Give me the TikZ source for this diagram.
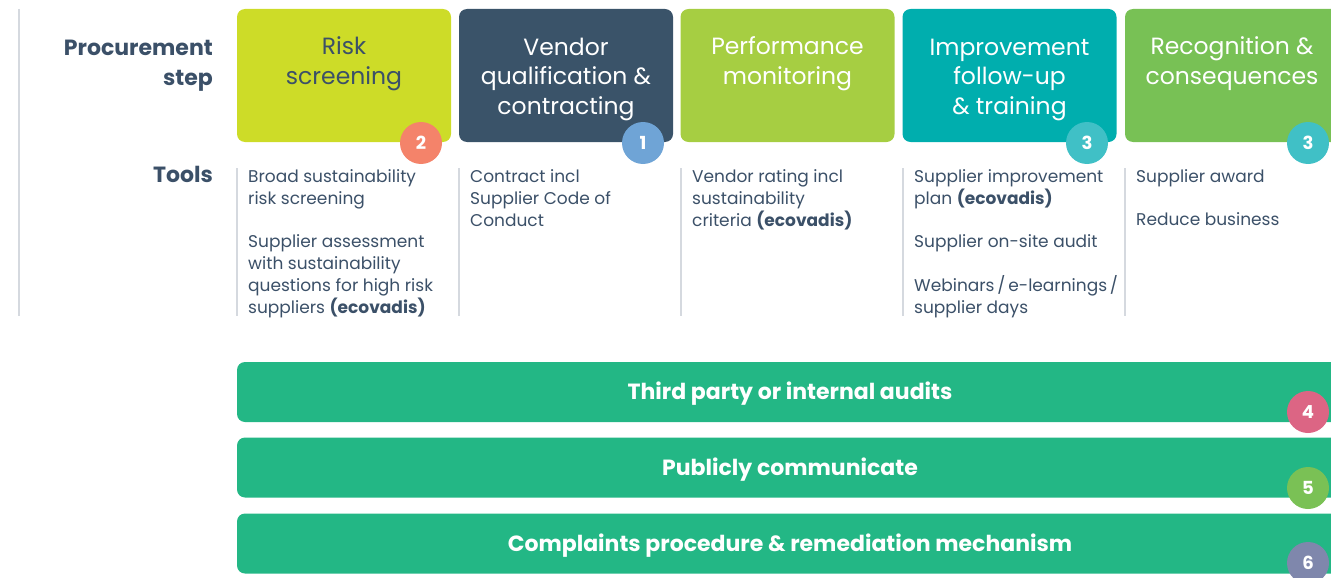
\documentclass[tikz,border=0pt]{standalone}
\usepackage{fontspec}
\setmainfont{Poppins}
\definecolor{ink}{HTML}{3B5068}
\definecolor{cRisk}{HTML}{CDDC28}
\definecolor{cVendor}{HTML}{3A5369}
\definecolor{cPerf}{HTML}{A6CE42}
\definecolor{cImpr}{HTML}{00AEAE}
\definecolor{cRecog}{HTML}{78C155}
\definecolor{cBar}{HTML}{23B785}
\definecolor{bSalmon}{HTML}{F4836A}
\definecolor{bBlue}{HTML}{6FA4D6}
\definecolor{bTeal}{HTML}{40C0C6}
\definecolor{bPink}{HTML}{DC6584}
\definecolor{bGreen}{HTML}{7AC155}
\definecolor{bPurple}{HTML}{7F87AC}
\definecolor{sepgray}{HTML}{D5D9DF}
\tikzset{
  stepbox/.style={rectangle, rounded corners=8pt, minimum width=214pt, minimum height=133pt, inner sep=0pt, draw=none},
  steptext/.style={anchor=base, align=center, inner sep=0pt, font=\fontsize{23.5}{29.5}\selectfont},
  badge/.style={circle, minimum size=42pt, inner sep=0pt, text=white, font=\fontsize{18}{20}\selectfont\bfseries},
  tooltext/.style={anchor=base west, align=left, inner sep=0pt, text=ink, font=\fontsize{17}{22}\selectfont},
  head/.style={anchor=base east, align=right, inner sep=0pt, text=ink, font=\fontsize{22}{30}\selectfont\bfseries},
  bar/.style={rectangle, rounded corners=8pt, minimum width=1106pt, minimum height=60pt, inner sep=0pt, fill=cBar, text=white, text height=15.5pt, text depth=0pt, font=\fontsize{22}{24}\selectfont\bfseries},
  sep/.style={draw=sepgray, line width=1.2pt}
}
\begin{document}
\begin{tikzpicture}[x=1pt, y=-1pt]
\useasboundingbox (0,0) rectangle (1331,578);
\clip (0,0) rectangle (1331,578);
% left rule
\coordinate (L1) at (19,9);
\coordinate (L2) at (19,316);
\draw[sep] (L1) -- (L2);
% headings (base anchor = last line baseline)
\node[head] (hproc) at (213,85) {Procurement\\step};
\node[head] (htools) at (213,182) {Tools};
% step boxes
\node[stepbox, fill=cRisk]   (s1) at (344,75.5) {};
\node[stepbox, fill=cVendor] (s2) at (566,75.5) {};
\node[stepbox, fill=cPerf]   (s3) at (787.5,75.5) {};
\node[stepbox, fill=cImpr]   (s4) at (1009.5,75.5) {};
\node[stepbox, fill=cRecog]  (s5) at (1232,75.5) {};
\node[steptext, text=ink]   (t1) at (344,84.5) {Risk\\screening};
\node[steptext, text=white] (t2) at (566,114) {Vendor\\qualification \&\\contracting};
\node[steptext, text=white] (t3) at (787.5,84.5) {Performance\\monitoring};
\node[steptext, text=white] (t4) at (1009.5,114) {Improvement\\follow-up\\\& training};
\node[steptext, text=white] (t5) at (1232,84.5) {Recognition \&\\consequences};
% badges
\node[badge, fill=bSalmon] (b2) at (421,143) {2};
\node[badge, fill=bBlue]   (b1) at (643,143) {1};
\node[badge, fill=bTeal]   (b3a) at (1087,143) {3};
\node[badge, fill=bTeal]   (b3b) at (1308,143) {3};
% column separators
\foreach \x/\n in {237/a,459/b,681/c,903/d,1125/e}{
  \coordinate (c\n1) at (\x,168);
  \coordinate (c\n2) at (\x,316);
  \draw[sep] (c\n1) -- (c\n2);
}
% tools (base anchor = last line baseline)
\node[tooltext] (x1a) at (248,204) {Broad sustainability\\risk screening};
\node[tooltext] (x1b) at (248,313) {Supplier assessment\\with sustainability\\questions for high risk\\suppliers \textbf{(ecovadis)}};
\node[tooltext] (x2a) at (470,226) {Contract incl\\Supplier Code of\\Conduct};
\node[tooltext] (x3a) at (692,226) {Vendor rating incl\\sustainability\\criteria \textbf{(ecovadis)}};
\node[tooltext] (x4a) at (914,204) {Supplier improvement\\plan \textbf{(ecovadis)}};
\node[tooltext] (x4b) at (914,247) {Supplier on-site audit};
\node[tooltext] (x4c) at (914,313) {Webinars\,/\,e-learnings\,/\\supplier days};
\node[tooltext] (x5a) at (1136,182) {Supplier award};
\node[tooltext] (x5b) at (1136,225) {Reduce business};
% bars
\node[bar] (r1) at (790,392) {Third party or internal audits};
\node[bar] (r2) at (790,467.5) {Publicly communicate};
\node[bar] (r3) at (790,543.5) {Complaints procedure \& remediation mechanism};
\node[badge, fill=bPink]   (b4) at (1308,412) {4};
\node[badge, fill=bGreen]  (b5) at (1308,488) {5};
\node[badge, fill=bPurple] (b6) at (1308,563) {6};
\end{tikzpicture}
\end{document}
